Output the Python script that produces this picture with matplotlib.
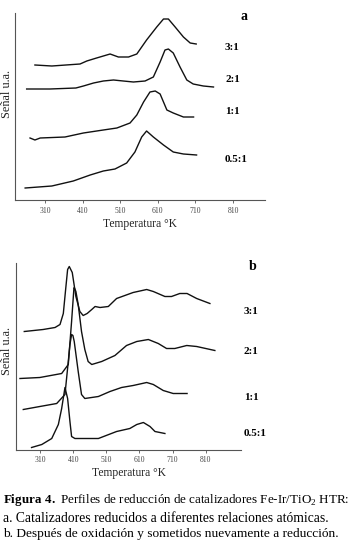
import matplotlib
matplotlib.use('Agg')
import matplotlib.pyplot as plt

plt.rcParams['font.family'] = ['Liberation Serif', 'DejaVu Serif']
plt.rcParams['mathtext.fontset'] = 'custom'
plt.rcParams['mathtext.rm'] = 'Liberation Serif'
plt.rcParams['mathtext.bf'] = 'Liberation Serif:bold'

W, H = 354, 545

# ---------------- panel a: reduced catalysts ----------------
a_t_31 = [283, 328, 403, 421, 447, 483, 505, 532, 554, 580, 607, 625, 638, 656, 678, 696, 712]
a_s_31 = [135, 134, 136, 139, 142, 146, 143, 143, 146, 160, 173, 181, 181, 173, 163, 157, 156]
a_t_21 = [261, 323, 392, 412, 439, 465, 492, 518, 545, 576, 598, 616, 629, 638, 651, 669, 687, 704, 731, 758]
a_s_21 = [111, 111, 112, 114, 117, 119, 120, 119, 118, 119, 123, 138, 150, 151, 147, 133, 120, 116, 114, 113]
a_t_11 = [270, 283, 297, 363, 412, 465, 501, 536, 554, 572, 589, 603, 616, 634, 651, 678, 705]
a_s_11 = [62, 60, 62, 63, 67, 70, 72, 77, 85, 98, 108, 109, 106, 90, 87, 83, 83]
a_t_05 = [257, 328, 385, 430, 465, 496, 527, 549, 567, 580, 598, 625, 651, 678, 713]
a_s_05 = [12, 14, 19, 25, 29, 31, 37, 48, 63, 69, 63, 55, 48, 46, 45]

# ---------------- panel b: after oxidation + re-reduction ----------------
b_t_31 = [262, 319, 355, 370, 380, 387, 393, 398, 407, 418, 430, 440, 452, 466, 476, 491,
          516, 541, 591, 632, 652, 687, 707, 732, 754, 783, 823]
b_s_31 = [118, 120, 122, 125, 136, 160, 180, 183, 177, 153, 138, 134, 136, 140, 143, 142,
          143, 151, 157, 160, 158, 153, 153, 156, 156, 151, 146]
b_t_21 = [249, 309, 375, 395, 405, 412, 413, 418, 425, 435, 445, 455, 466, 496, 536, 571,
          602, 637, 667, 692, 717, 753, 783, 838]
b_s_21 = [71, 72, 76, 85, 128, 161, 162, 158, 145, 118, 100, 88, 85, 88, 94, 104,
          108, 110, 106, 101, 101, 104, 103, 99]
b_t_11 = [259, 309, 360, 385, 395, 400, 405, 409, 413, 425, 435, 445, 486, 521, 556, 591,
          632, 652, 682, 712, 754]
b_s_11 = [40, 43, 46, 55, 88, 105, 115, 114, 108, 78, 55, 51, 53, 58, 62, 64,
          67, 65, 59, 56, 56]
b_t_05 = [284, 315, 345, 365, 375, 385, 393, 400, 405, 415, 486, 541, 581, 602, 622, 642, 657, 687]
b_s_05 = [2, 5, 11, 25, 41, 62, 51, 28, 13, 11, 11, 18, 21, 25, 27, 23, 18, 16]

ticks = [310, 410, 510, 610, 710, 810]
ratios = ['3:1', '2:1', '1:1', '0.5:1']


def fx(px):
    return px / W


def fy(py):
    return 1 - py / H


fig = plt.figure(figsize=(W / 100, H / 100), dpi=100)

ax_a = fig.add_axes([fx(15), fy(200), 250 / W, 187 / H])
ax_b = fig.add_axes([fx(16), fy(449.5), 225 / W, 186.5 / H])

line_kw = dict(color='#111111', lw=1.0)
for t, s in [(a_t_31, a_s_31), (a_t_21, a_s_21), (a_t_11, a_s_11), (a_t_05, a_s_05)]:
    ax_a.plot(t, s, **line_kw)
for t, s in [(b_t_31, b_s_31), (b_t_21, b_s_21), (b_t_11, b_s_11), (b_t_05, b_s_05)]:
    ax_b.plot(t, s, **line_kw)

ax_a.set_xlim(230, 895)
ax_a.set_ylim(0, 187)
ax_b.set_xlim(237, 917)
ax_b.set_ylim(0, 186.5)

for ax in (ax_a, ax_b):
    for sp in ('top', 'right'):
        ax.spines[sp].set_visible(False)
    for sp in ('left', 'bottom'):
        ax.spines[sp].set_color('#555555')
        ax.spines[sp].set_linewidth(0.8)
    ax.set_yticks([])
    ax.set_xticks(ticks)
    ax.set_xticklabels([str(v) for v in ticks])
    ax.tick_params(axis='x', length=2, width=0.6, color='#555555',
                   labelsize=5.5, labelcolor='#444444', pad=3)
    ax.set_xlabel('Temperatura °K', fontsize=8.3, labelpad=2, color='#222222')

# y labels
fig.text(fx(7), fy(94), 'Señal u.a.', rotation=90, ha='center', va='center',
         fontsize=8.8, color='#222222')
fig.text(fx(7), fy(351), 'Señal u.a.', rotation=90, ha='center', va='center',
         fontsize=8.8, color='#222222')

# panel letters and ratio labels
fig.text(fx(244), fy(16), 'a', ha='center', va='center', fontsize=10, fontweight='bold')
fig.text(fx(253), fy(266), 'b', ha='center', va='center', fontsize=10, fontweight='bold')
for lab, y in zip(ratios, [47, 80, 112, 160]):
    fig.text(fx(225), fy(y), lab, ha='left', va='center', fontsize=8, fontweight='bold')
for lab, y in zip(ratios, [312, 351, 397.5, 434]):
    fig.text(fx(244), fy(y), lab, ha='left', va='center', fontsize=8, fontweight='bold')

# caption
fig.text(fx(3), fy(500), r'$\mathbf{Figura\ 4.}$ Perfiles de reducción de catalizadores Fe-Ir/TiO$_2$ HTR:',
         ha='left', va='center', fontsize=9.4)
fig.text(fx(3), fy(519), 'a. Catalizadores reducidos a diferentes relaciones atómicas.',
         ha='left', va='center', fontsize=9.8)
fig.text(fx(3), fy(534), 'b. Después de oxidación y sometidos nuevamente a reducción.',
         ha='left', va='center', fontsize=9.6)

fig.savefig('out.png', dpi=100)
